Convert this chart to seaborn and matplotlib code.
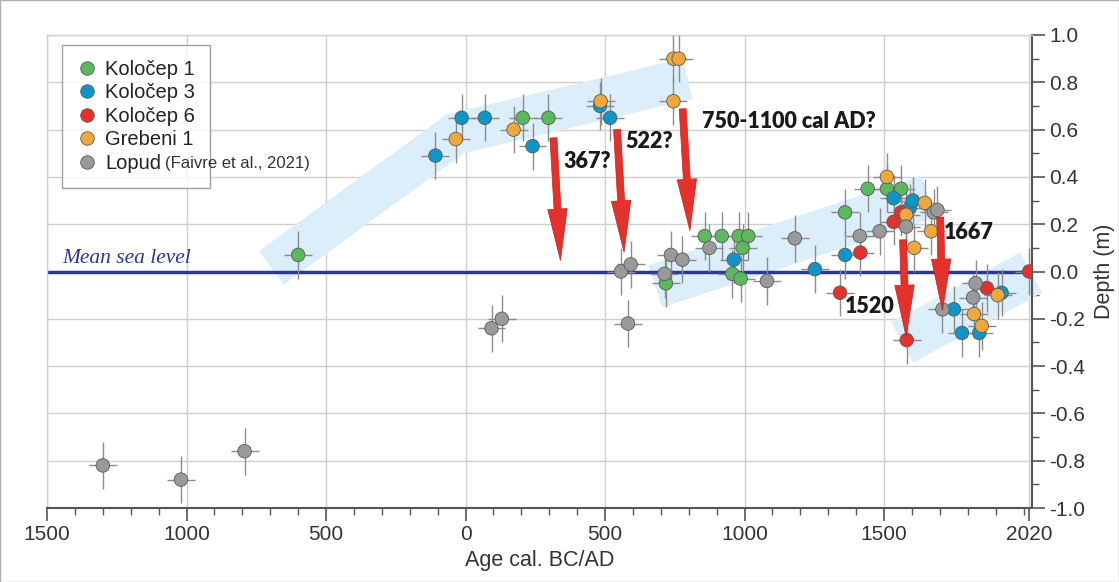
import numpy as np
import pandas as pd
import matplotlib
matplotlib.use("Agg")
import matplotlib.pyplot as plt
from matplotlib import font_manager
from matplotlib.patches import Rectangle
from matplotlib.ticker import MultipleLocator
import seaborn as sns

# ages in years, negative = BC ; depths in m
k1_age = [-600, 205, 297, 718, 857, 918, 979, 1013, 993, 956, 986, 1360, 1441, 1510, 1561]
k1_depth = [0.07, 0.65, 0.65, -0.05, 0.15, 0.15, 0.15, 0.15, 0.10, -0.01, -0.03, 0.25, 0.35, 0.35, 0.35]

k3_age = [-108, -14, 69, 240, 482, 518, 961, 1252, 1360, 1534, 1592, 1603, 1750, 1779, 1841, 1921]
k3_depth = [0.49, 0.65, 0.65, 0.53, 0.70, 0.65, 0.05, 0.01, 0.07, 0.31, 0.27, 0.30, -0.16, -0.26, -0.26, -0.09]

k6_age = [1342, 1415, 1534, 1561, 1581, 1868, 2020]
k6_depth = [-0.09, 0.08, 0.21, 0.25, -0.29, -0.07, 0.0]

gr_age = [-35, 172, 484, 745, 764, 745, 1510, 1579, 1608, 1646, 1668, 1822, 1850, 1907]
gr_depth = [0.56, 0.60, 0.72, 0.90, 0.90, 0.72, 0.40, 0.24, 0.10, 0.29, 0.17, -0.18, -0.23, -0.10]

lo_age = [-1300, -1020, -792, 93, 130, 557, 592, 582, 713, 736, 777, 874, 1080, 1180,
          1413, 1484, 1579, 1678, 1691, 1709, 1819, 1828]
lo_depth = [-0.82, -0.88, -0.76, -0.24, -0.20, 0.00, 0.03, -0.22, -0.01, 0.07, 0.05, 0.10,
            -0.04, 0.14, 0.15, 0.17, 0.19, 0.25, 0.26, -0.16, -0.11, -0.05]

site_names = ["Koločep 1", "Koločep 3", "Koločep 6", "Grebeni 1", "Lopud"]
age_err = 50     # years
depth_err = 0.1  # m

# trend bands (centre lines) and sea-level drop arrows
band1_age = [-696, -37, 796]
band1_depth = [0.015, 0.582, 0.815]
band2_age = [680, 1658]
band2_depth = [-0.063, 0.317]
band3_age = [1565, 2027]
band3_depth = [-0.30, -0.004]

arrow_start = [(315, 0.565), (543, 0.60), (778, 0.688), (1568, 0.134), (1701, 0.23)]
arrow_tip = [(340, 0.047), (568, 0.082), (804, 0.173), (1579, -0.275), (1709, -0.165)]
event_labels = ["367?", "522?", "750-1100 cal AD?", "1520", "1667"]
event_pos = [(437, 0.465), (658, 0.55), (849, 0.635), (1448, -0.146), (1805, 0.166)]

colors = {
    "Koločep 1": "#5cb85c",
    "Koločep 3": "#0f95c8",
    "Koločep 6": "#e2322b",
    "Grebeni 1": "#f0a83c",
    "Lopud": "#9a9a9a",
}

df = pd.concat([
    pd.DataFrame({"age": a, "depth": d, "site": s})
    for a, d, s in zip([k1_age, k3_age, k6_age, gr_age, lo_age],
                       [k1_depth, k3_depth, k6_depth, gr_depth, lo_depth], site_names)
], ignore_index=True)

sns.set_style("white")
names = {f.name for f in font_manager.fontManager.ttflist}
narrow = "Liberation Sans Narrow" if "Liberation Sans Narrow" in names else "Liberation Sans"
plt.rcParams["font.family"] = [narrow, "DejaVu Sans"]
plt.rcParams["axes.unicode_minus"] = False

fig = plt.figure(figsize=(11.19, 5.82), dpi=100)
ax = fig.add_axes([47 / 1119, 74 / 582, 985 / 1119, 473 / 582])

band_col = "#dbeefa"
ax.plot(band1_age, band1_depth, color=band_col, lw=30, solid_capstyle="butt",
        solid_joinstyle="miter", zorder=1)
ax.plot(band2_age, band2_depth, color=band_col, lw=32, solid_capstyle="butt", zorder=1)
ax.plot(band3_age, band3_depth, color=band_col, lw=33, solid_capstyle="butt", zorder=1,
        clip_on=False)

ax.axhline(0, color="#2b3990", lw=2.5, zorder=2)
ax.text(-1446, 0.055, "Mean sea level", family="Liberation Serif", style="italic",
        fontsize=15.5, color="#2b3990", ha="left", va="center", zorder=6)

ax.errorbar(df["age"], df["depth"], xerr=age_err, yerr=depth_err, fmt="none",
            ecolor="#8c8c8c", elinewidth=1, capsize=0, zorder=3)
sns.scatterplot(data=df, x="age", y="depth", hue="site", hue_order=site_names,
                palette=colors, s=95, edgecolor="#5a5a5a", linewidth=0.6,
                zorder=4, ax=ax)

for (x0, y0), (x1, y1) in zip(arrow_start, arrow_tip):
    ax.annotate("", xy=(x1, y1), xytext=(x0, y0), zorder=5,
                arrowprops=dict(arrowstyle="simple,head_length=3.7,head_width=1.4,tail_width=0.5",
                                mutation_scale=10, fc="#e4312b", ec="#c4221c", lw=0.5,
                                shrinkA=0, shrinkB=0))
for lab, (x, y) in zip(event_labels, event_pos):
    ax.text(x, y, lab, family="Lato", weight="heavy", fontsize=15.5, color="#1a1a1a",
            ha="left" if lab.startswith("750") else "center", va="center", zorder=6)

# axes
ax.set_xlim(-1500, 2030)
ax.set_ylim(-1.0, 1.0)
xt = [-1500, -1000, -500, 0, 500, 1000, 1500, 2020]
ax.set_xticks(xt)
ax.set_xticklabels([str(abs(v)) for v in xt])
ax.xaxis.set_minor_locator(MultipleLocator(100))
yt = np.round(np.arange(-1.0, 1.01, 0.2), 1)
ax.set_yticks(yt)
ax.set_yticklabels([f"{v:.1f}".replace("-0.0", "0.0") for v in yt])
ax.yaxis.set_minor_locator(MultipleLocator(0.1))
ax.yaxis.tick_right()
ax.yaxis.set_label_position("right")
ax.grid(which="major", color="#cfcfcf", lw=1, zorder=0)
ax.set_axisbelow(True)
ax.tick_params(which="major", length=9, width=1.2, color="#555", labelsize=15,
               labelcolor="#333", direction="out")
ax.tick_params(which="minor", length=5, width=1, color="#555", direction="out")
ax.tick_params(axis="x", which="both", bottom=True)
ax.tick_params(axis="y", which="both", right=True, left=False)
for side in ["bottom", "right"]:
    ax.spines[side].set_color("#555")
    ax.spines[side].set_linewidth(1.5)
for side in ["top", "left"]:
    ax.spines[side].set_color("#cfcfcf")
    ax.spines[side].set_linewidth(1)
ax.set_xlabel("Age cal. BC/AD", fontsize=15.5, color="#333", labelpad=4)
ax.set_ylabel("Depth (m)", fontsize=15.5, color="#333", labelpad=6)

handles, labels = ax.get_legend_handles_labels()
leg = ax.legend(handles, labels, loc="upper left", bbox_to_anchor=(0.015, 0.979),
                borderaxespad=0, frameon=True, fancybox=False, edgecolor="#8a8a8a",
                fontsize=14.5, handlelength=1.0, handletextpad=0.4, labelspacing=0.22,
                borderpad=0.75)
leg.get_frame().set_linewidth(1)
leg.set_zorder(7)
lopud_text = leg.get_texts()[-1]
ax.annotate("(Faivre et al., 2021)", xy=(1, 0), xycoords=lopud_text, xytext=(3, 1),
            textcoords="offset points", fontsize=12, color="#333", ha="left", va="bottom",
            zorder=8)
for t in leg.get_texts():
    t.set_color("#222")

fig.patches.append(Rectangle((0, 0), 1, 1, transform=fig.transFigure, fill=False,
                             edgecolor="#b0b0b0", lw=1))
fig.savefig("out.png", dpi=100)
